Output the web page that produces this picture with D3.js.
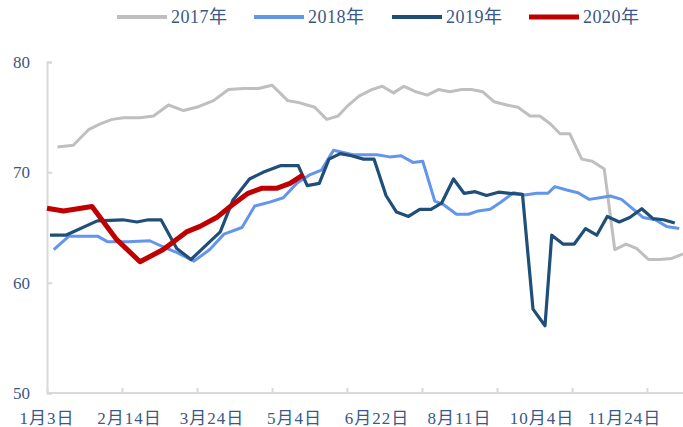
<!DOCTYPE html>
<html>
<head>
<meta charset="utf-8">
<script src="https://cdn.jsdelivr.net/npm/d3@7"></script>
<style>
  html, body { margin: 0; padding: 0; background: #fff; }
  svg text { font-family: "Liberation Serif", "Noto Sans CJK SC", serif; fill: #3a5787; }
</style>
</head>
<body>
<div id="chart"></div>
<script>
// category axis: ~85 slots, labels every 11, ticks every 10
const xLabels = ['1月3日', '2月14日', '3月24日', '5月4日', '6月22日', '8月11日', '10月4日', '11月24日'];
const yTicks = [50, 60, 70, 80];

// [slot position, value]
const s2017 = [[1.4,72.3],[3.5,72.45],[5.6,73.9],[7.1,74.4],[8.7,74.8],[10.2,74.95],[12.4,74.95],[14.2,75.1],
  [16.2,76.1],[18.2,75.6],[20.2,75.95],[22.2,76.5],[24.2,77.5],[26.2,77.6],[28.2,77.6],[30.0,77.9],[32.1,76.5],
  [33.7,76.3],[35.7,75.9],[37.3,74.8],[38.8,75.1],[40.2,76.1],[41.6,76.9],[43.3,77.5],[44.7,77.8],[46.2,77.2],
  [47.6,77.8],[49.2,77.3],[50.7,77.0],[52.2,77.5],[53.7,77.3],[55.3,77.5],[56.6,77.5],[58.1,77.3],[59.6,76.4],
  [61.3,76.1],[62.8,75.9],[64.4,75.1],[65.7,75.1],[67.1,74.4],[68.4,73.5],[69.7,73.5],[71.3,71.2],[72.7,71.0],
  [74.3,70.3],[75.7,63.0],[77.2,63.5],[78.6,63.1],[80.2,62.1],[81.7,62.1],[83.3,62.2],[84.8,62.6]];
const s2018 = [[0.9,63.0],[2.9,64.2],[6.8,64.2],[8.1,63.7],[10.8,63.7],[13.7,63.8],[15.3,63.3],[17.1,62.8],
  [19.6,61.95],[21.7,63.0],[23.6,64.4],[26.0,65.0],[27.7,66.95],[29.7,67.3],[31.5,67.7],[33.3,69.0],[35.1,69.8],
  [36.6,70.2],[38.2,72.0],[39.5,71.8],[40.8,71.6],[44.0,71.6],[45.7,71.4],[47.2,71.5],[48.8,70.9],[50.1,71.0],
  [51.7,67.4],[52.8,67.1],[54.6,66.2],[56.2,66.2],[57.5,66.5],[59.1,66.65],[60.4,67.25],[62.2,68.15],[63.7,67.95],
  [65.3,68.1],[66.8,68.1],[67.7,68.7],[69.3,68.4],[70.8,68.15],[72.3,67.55],[73.7,67.7],[75.1,67.85],[76.6,67.55],
  [78.2,66.65],[79.5,65.9],[81.1,65.7],[82.6,65.1],[84.3,64.9]];
const s2019 = [[0.4,64.3],[2.5,64.3],[6.7,65.6],[10.1,65.7],[12.0,65.5],[13.5,65.7],[15.2,65.7],[17.3,63.1],
  [19.2,62.1],[22.0,63.9],[23.1,64.6],[24.8,67.5],[27.0,69.4],[28.8,70.0],[31.1,70.6],[33.5,70.6],[34.7,68.8],
  [36.3,69.0],[37.6,71.2],[39.1,71.7],[40.6,71.5],[42.2,71.2],[43.6,71.2],[45.2,67.9],[46.6,66.4],[48.2,66.0],
  [49.7,66.65],[51.2,66.65],[52.6,67.2],[54.2,69.4],[55.6,68.1],[57.1,68.25],[58.6,67.9],[60.2,68.2],[61.7,68.1],
  [63.4,68.0],[64.8,57.6],[66.4,56.1],[67.3,64.3],[68.8,63.5],[70.3,63.5],[71.8,64.9],[73.3,64.3],[74.7,66.0],
  [76.3,65.5],[77.7,65.9],[79.3,66.7],[80.8,65.8],[82.2,65.7],[83.7,65.4]];
const s2020 = [[0,66.75],[2.2,66.5],[6.0,66.9],[9.3,63.9],[12.4,61.9],[15.5,63.0],[18.6,64.6],[20.4,65.1],
  [22.6,65.9],[24.6,67.0],[26.8,68.1],[28.6,68.55],[30.6,68.55],[32.4,69.0],[34.2,69.8]];

const series = [
  { name: '2017年', data: s2017, color: '#bfbfbf', width: 3 },
  { name: '2018年', data: s2018, color: '#6495ed', width: 3 },
  { name: '2019年', data: s2019, color: '#1f4e79', width: 3.2 },
  { name: '2020年', data: s2020, color: '#c00000', width: 5 }
];

const width = 683, height = 427;
const margin = { top: 62, right: 0, bottom: 34, left: 47 };

const svg = d3.select('#chart').append('svg')
  .attr('width', width).attr('height', height)
  .attr('viewBox', `0 0 ${width} ${height}`);

const x = d3.scaleLinear().domain([0, 85]).range([margin.left, margin.left + 85 * 7.5]);
const y = d3.scaleLinear().domain([50, 80]).range([height - margin.bottom, margin.top]);

// y axis
const yAxis = svg.append('g').attr('transform', `translate(${margin.left},0)`)
  .call(d3.axisRight(y).tickValues(yTicks).tickSize(5).tickFormat(''));
yAxis.selectAll('line, path').attr('stroke', '#d9d9d9').attr('stroke-width', 2);
svg.append('g').selectAll('text').data(yTicks).join('text')
  .attr('x', 30).attr('y', d => y(d)).attr('dy', '0.35em')
  .attr('text-anchor', 'end').attr('font-size', 17).text(d => d);

// x axis
const xAxis = svg.append('g').attr('transform', `translate(0,${y(50)})`)
  .call(d3.axisTop(x).tickValues(d3.range(0, 81, 10)).tickSize(5).tickSizeOuter(0).tickFormat(''));
xAxis.select('path').attr('d', `M${margin.left},0H${width}`);
xAxis.selectAll('line, path').attr('stroke', '#d9d9d9').attr('stroke-width', 2);
svg.append('g').selectAll('text').data(xLabels).join('text')
  .attr('x', (d, i) => x(i * 11)).attr('y', 424)
  .attr('text-anchor', 'middle').attr('font-size', 17)
  .attr('letter-spacing', 1).text(d => d);

// lines
const line = d3.line().x(d => x(d[0])).y(d => y(d[1]));
svg.append('g').selectAll('path').data(series).join('path')
  .attr('fill', 'none')
  .attr('stroke', d => d.color)
  .attr('stroke-width', d => d.width)
  .attr('stroke-linejoin', 'round')
  .attr('d', d => line(d.data));

// legend
const legendX = [117, 254, 392, 529];
const legend = svg.append('g').selectAll('g').data(series).join('g')
  .attr('transform', (d, i) => `translate(${legendX[i]},17)`);
legend.append('line').attr('x1', 0).attr('x2', 50)
  .attr('stroke', d => d.color).attr('stroke-width', d => Math.max(d.width, 4));
legend.append('text').attr('x', 54).attr('dy', '0.35em')
  .attr('font-size', 18).attr('letter-spacing', 0.5).text(d => d.name);
</script>
</body>
</html>
